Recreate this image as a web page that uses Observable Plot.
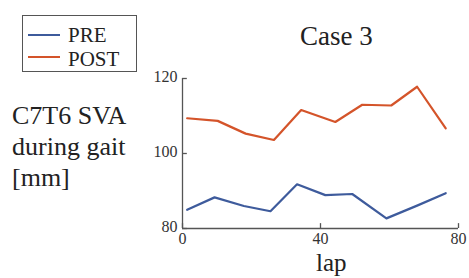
<!DOCTYPE html>
<html>
<head>
<meta charset="utf-8">
<script src="https://cdn.jsdelivr.net/npm/d3@7"></script>
<script src="https://cdn.jsdelivr.net/npm/@observablehq/plot@0.6"></script>
<style>
  html, body { margin: 0; padding: 0; background: #fff; }
  #wrap { position: relative; width: 469px; height: 278px; font-family: "Liberation Serif", "Times New Roman", "DejaVu Serif", serif; color: #222; overflow: hidden; }
  #chart { position: absolute; left: 0; top: 0; }
  .abs { position: absolute; white-space: nowrap; }
  #legend { position: absolute; left: 22px; top: 15px; width: 113px; height: 55px; border: 1.5px solid #555; box-sizing: content-box; }
  .lrow { position: absolute; left: 0; width: 113px; height: 22px; font-size: 21px; line-height: 22px; }
  .sw { position: absolute; left: 5px; width: 32px; height: 2px; }
  .lt { position: absolute; left: 45px; top: 0; }
</style>
</head>
<body>
<div id="wrap">
  <div id="chart"></div>
  <div id="legend">
    <div class="lrow" style="top:8px"><div class="sw" style="top:10px;background:#3e5b9c"></div><div class="lt">PRE</div></div>
    <div class="lrow" style="top:32px"><div class="sw" style="top:8px;background:#d4542a"></div><div class="lt">POST</div></div>
  </div>
  <div class="abs" style="left:300px;top:20px;font-size:27px;line-height:32px;">Case 3</div>
  <div class="abs" style="left:12px;top:100px;font-size:26px;line-height:31px;">C7T6 SVA<br>during gait<br>[mm]</div>
  <div class="abs" style="left:316px;top:248px;font-size:25px;line-height:30px;">lap</div>
</div>
<script>
const preLap   = [1.35, 9.3, 17.8, 25.5, 33.2, 41.4, 49.2, 59.1, 68.0, 76.3];
const preSVA   = [85.0, 88.3, 86.0, 84.6, 91.8, 88.9, 89.2, 82.7, 86.1, 89.4];
const postLap  = [1.35, 10.2, 18.3, 26.5, 34.4, 44.3, 52.1, 60.5, 68.0, 76.3];
const postSVA  = [109.4, 108.7, 105.3, 103.6, 111.6, 108.4, 113.0, 112.8, 117.8, 106.7];
const xTicks = [0, 40, 80];
const yTicks = [80, 100, 120];
const colors = {PRE: "#3e5b9c", POST: "#d4542a"};

const pre = preLap.map((x, i) => ({lap: x, sva: preSVA[i]}));
const post = postLap.map((x, i) => ({lap: x, sva: postSVA[i]}));

const axisColor = "#555";
const plot = Plot.plot({
  width: 469,
  height: 278,
  marginLeft: 182,
  marginRight: 11,
  marginTop: 78,
  marginBottom: 50,
  x: {domain: [0, 80]},
  y: {domain: [80, 120]},
  style: {fontFamily: "'Liberation Serif', 'Times New Roman', 'DejaVu Serif', serif", fontSize: "16px", color: "#333", background: "transparent"},
  marks: [
    Plot.ruleX([0], {y1: 80, y2: 120, stroke: axisColor, strokeWidth: 1.3}),
    Plot.ruleY([80], {x1: 0, x2: 80, stroke: axisColor, strokeWidth: 1.3}),
    Plot.ruleY(yTicks, {x1: 0, x2: 1.4, stroke: axisColor, strokeWidth: 1.3}),
    Plot.ruleX(xTicks, {y1: 80, y2: 81.3, stroke: axisColor, strokeWidth: 1.3}),
    Plot.axisY(yTicks, {tickSize: 0, tickPadding: 5, dy: -2, label: null, fill: "#333"}),
    Plot.axisX(xTicks, {tickSize: 0, tickPadding: 4, label: null, fill: "#333"}),
    Plot.line(pre, {x: "lap", y: "sva", stroke: colors.PRE, strokeWidth: 2.2}),
    Plot.line(post, {x: "lap", y: "sva", stroke: colors.POST, strokeWidth: 2.2})
  ]
});
document.getElementById("chart").appendChild(plot);
</script>
</body>
</html>
